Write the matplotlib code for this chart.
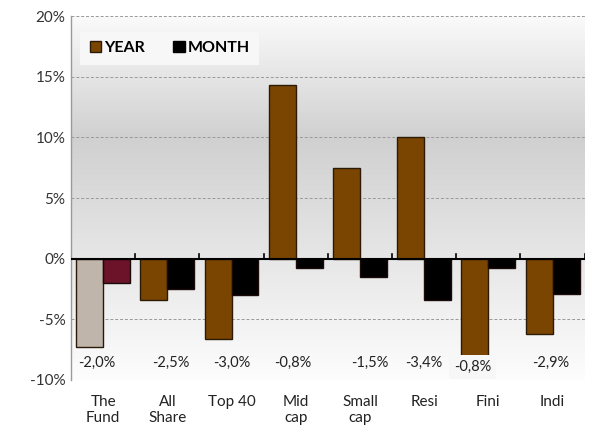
import numpy as np
import matplotlib.pyplot as plt
from matplotlib.colors import LinearSegmentedColormap
from matplotlib.patches import Patch

plt.rcParams['font.family'] = ['Lato', 'DejaVu Sans']

categories = ["The\nFund", "All\nShare", "Top 40", "Mid\ncap", "Small\ncap", "Resi", "Fini", "Indi"]
year = [-7.3, -3.4, -6.6, 14.3, 7.5, 10.0, -8.2, -6.2]
month = [-2.0, -2.5, -3.0, -0.8, -1.5, -3.4, -0.8, -2.9]
month_labels = ["-2,0%", "-2,5%", "-3,0%", "-0,8%", "-1,5%", "-3,4%", "-0,8%", "-2,9%"]
yticks = [-10, -5, 0, 5, 10, 15, 20]

brown = '#7a4500'
fund_year = '#bfb5aa'
fund_month = '#6c1229'

fig = plt.figure(figsize=(6.13, 4.46), dpi=100)
ax = fig.add_axes([0.1158, 0.148, 0.838, 0.816])

x = np.arange(len(categories))
w = 0.42

# background gradient
cmap = LinearSegmentedColormap.from_list('bg', [(0, '#fafafa'), (1 / 3, '#d0d0d0'), (1, '#fdfdfd')])
grad = np.linspace(0, 1, 256).reshape(-1, 1)
ax.imshow(grad, extent=[-0.5, len(categories) - 0.5, -10, 20], origin='upper',
          aspect='auto', cmap=cmap, zorder=0)

year_colors = [fund_year] + [brown] * (len(categories) - 1)
month_colors = [fund_month] + ['black'] * (len(categories) - 1)
ax.bar(x - w / 2, year, w, color=year_colors, edgecolor='#2b1a08', linewidth=1.0, zorder=3)
ax.bar(x + w / 2, month, w, color=month_colors, edgecolor='#1a0a0a', linewidth=1.0, zorder=3)

for yv in [-10, -5, 5, 10, 15, 20]:
    ax.axhline(yv, color='#999999', linestyle=(0, (3, 2)), linewidth=0.7, zorder=1)
ax.axhline(0, color='black', linewidth=1.5, zorder=4)
for b in np.arange(0.5, len(categories) - 0.5 + 1e-9, 1.0):
    ax.plot([b, b], [0, 0.35], color='black', linewidth=1.2, zorder=4)

# month value labels
label_x = [-0.1, 1.05, 2.0, 2.95, 4.15, 5.0, 5.75, 6.97]
for i, (lx, t) in enumerate(zip(label_x, month_labels)):
    ly = -8.6 if i != 6 else -8.9
    kw = {}
    if i == 6:
        kw['bbox'] = dict(boxstyle='square,pad=0.35', fc='#f7f7f7', ec='none')
    ax.text(lx, ly, t, ha='center', va='center', fontsize=10.5, color='#222222', zorder=5, **kw)

ax.set_xlim(-0.5, len(categories) - 0.5)
ax.set_ylim(-10, 20)
ax.set_yticks(yticks)
ax.set_yticklabels([f"{v}%" for v in yticks], fontsize=11, color='#333333')
ax.set_xticks(x)
ax.set_xticklabels(categories, fontsize=11, color='#222222', linespacing=1.15)
ax.tick_params(axis='x', length=0, pad=11)
ax.tick_params(axis='y', length=0, pad=4)

for s in ['top', 'right', 'bottom']:
    ax.spines[s].set_visible(False)
ax.spines['left'].set_color('#9a9a9a')
ax.spines['left'].set_linewidth(1.0)

handles = [Patch(facecolor=brown, edgecolor='#2b1a08', label='YEAR'),
           Patch(facecolor='black', edgecolor='black', label='MONTH')]
leg = ax.legend(handles=handles, loc='upper left', bbox_to_anchor=(0.005, 0.975), ncol=2,
                frameon=True, fancybox=False, framealpha=1, facecolor='#f7f7f7', edgecolor='none',
                prop={'weight': 'bold', 'size': 11.5}, handlelength=0.7, handleheight=0.7,
                handletextpad=0.2, columnspacing=1.8, borderpad=0.6, borderaxespad=0.4)
leg.set_zorder(6)

fig.savefig('out.png', dpi=100)
